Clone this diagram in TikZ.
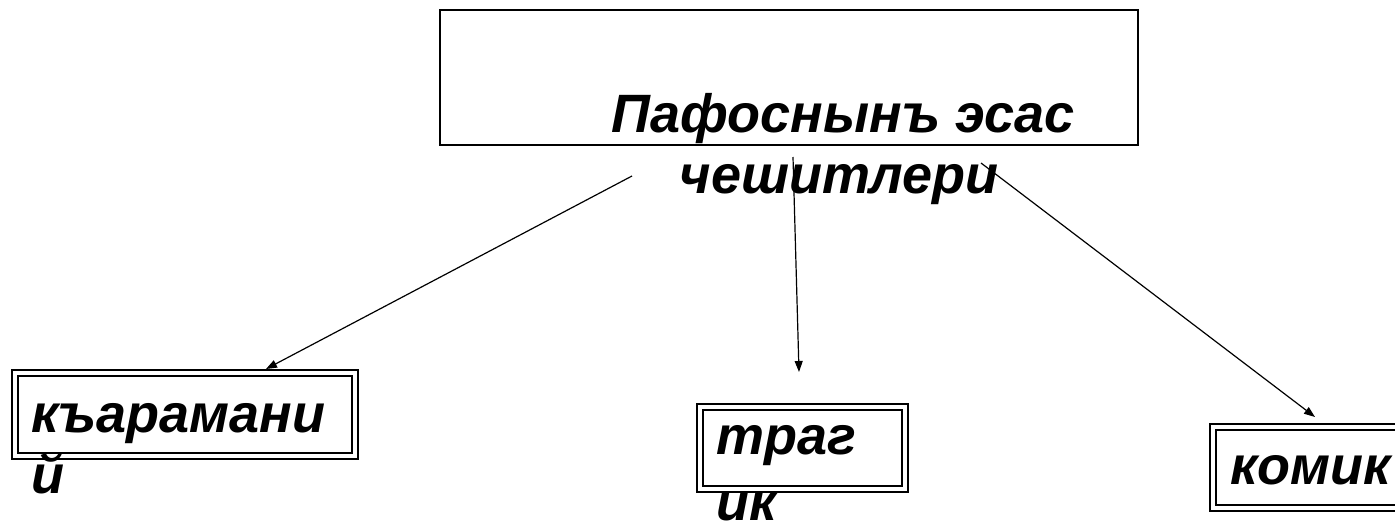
\documentclass[tikz,border=0pt]{standalone}
\usepackage{fontspec}
\setmainfont{Liberation Sans}
\usetikzlibrary{arrows.meta}
\tikzset{
  lbl/.style={font=\fontsize{54}{61}\selectfont\bfseries\itshape, inner sep=0pt, anchor=base west},
  lblc/.style={font=\fontsize{54}{61}\selectfont\bfseries\itshape, inner sep=0pt, anchor=base},
  mainbox/.style={draw=black, line width=1.8pt, inner sep=0pt, anchor=north west},
  dbox/.style={draw=black, line width=2pt, double=white, double distance=3.5pt, inner sep=0pt, anchor=north west},
  conn/.style={line width=1.2pt, -{Triangle[length=11pt,width=8pt]}}
}
\begin{document}
\begin{tikzpicture}[x=1pt,y=-1pt]
\useasboundingbox (0,0) rectangle (1395,530);
% main box
\node[mainbox, minimum width=698pt, minimum height=135pt] (main) at (439,9) {};
\node[lblc] (t1) at (843,132) {Пафоснынъ эсас};
\node[lblc] (t2) at (839,193) {чешитлери};
% lower boxes
\node[dbox, minimum width=340pt, minimum height=83pt] (b1) at (14,372) {};
\node[lbl] (k1) at (31,432) {къарамани};
\node[lbl] (k2) at (31,493) {й};
\node[dbox, minimum width=205pt, minimum height=82pt] (b2) at (699,406) {};
\node[lbl] (tr1) at (716,454) {траг};
\node[lbl] (tr2) at (716,520) {ик};
\node[dbox, minimum width=210pt, minimum height=81pt] (b3) at (1212,426) {};
\node[lbl] (km) at (1230,484) {комик};
% connector ends
\coordinate (s1) at (632,176);
\coordinate (e1) at (266,369);
\coordinate (s2) at (793,157);
\coordinate (e2) at (799,372);
\coordinate (s3) at (981,163);
\coordinate (e3) at (1315,417);
\draw[conn] (s1) -- (e1);
\draw[conn] (s2) -- (e2);
\draw[conn] (s3) -- (e3);
\end{tikzpicture}
\end{document}
